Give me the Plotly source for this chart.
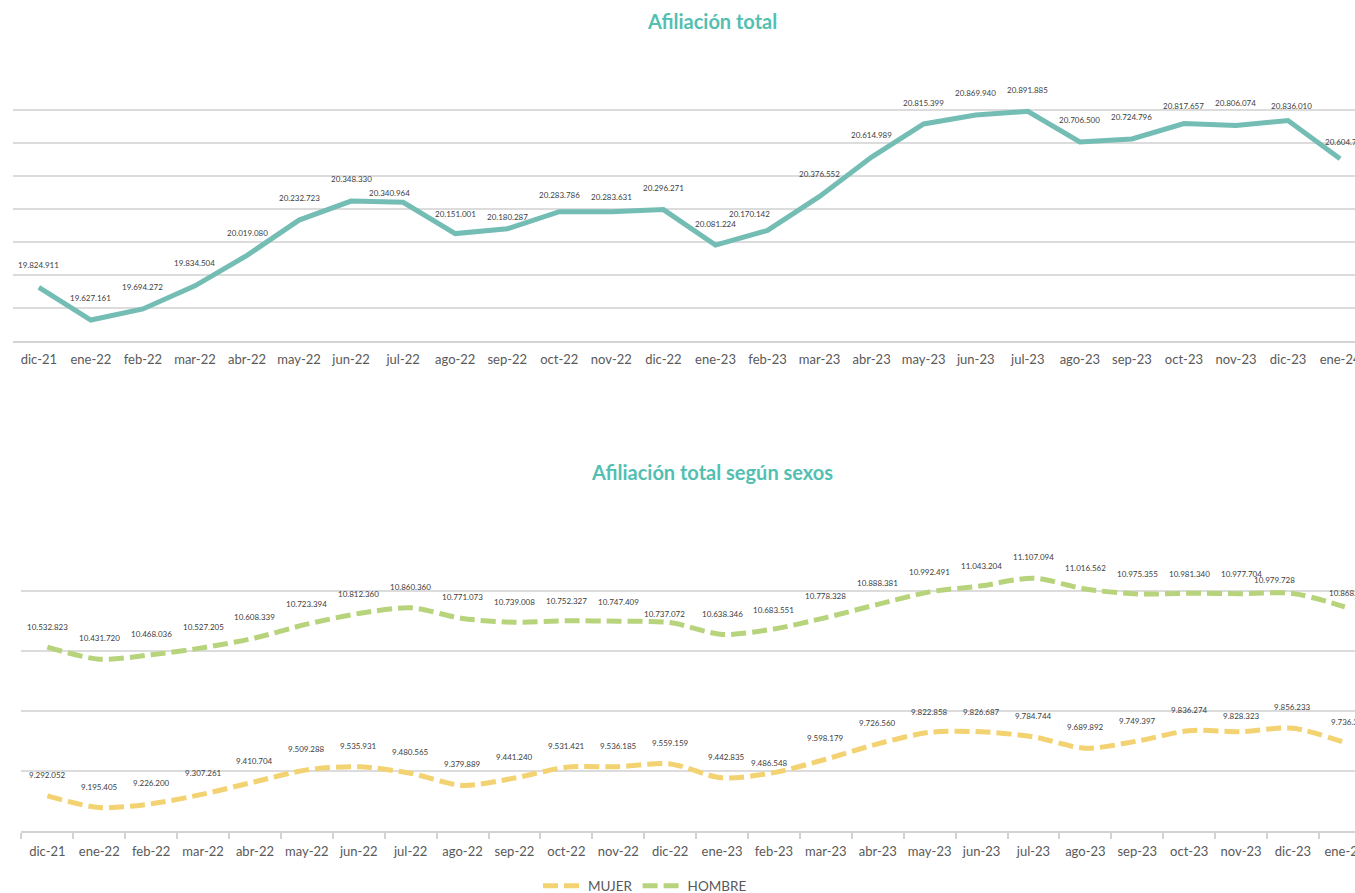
import plotly.graph_objects as go

months = ["dic-21", "ene-22", "feb-22", "mar-22", "abr-22", "may-22", "jun-22", "jul-22",
          "ago-22", "sep-22", "oct-22", "nov-22", "dic-22", "ene-23", "feb-23", "mar-23",
          "abr-23", "may-23", "jun-23", "jul-23", "ago-23", "sep-23", "oct-23", "nov-23",
          "dic-23", "ene-24"]

total = [19824911, 19627161, 19694272, 19834504, 20019080, 20232723, 20348330, 20340964,
         20151001, 20180287, 20283786, 20283631, 20296271, 20081224, 20170142, 20376552,
         20614989, 20815399, 20869940, 20891885, 20706500, 20724796, 20817657, 20806074,
         20836010, 20604735]

hombre = [10532823, 10431720, 10468036, 10527205, 10608339, 10723394, 10812360, 10860360,
          10771073, 10739008, 10752327, 10747409, 10737072, 10638346, 10683551, 10778328,
          10888381, 10992491, 11043204, 11107094, 11016562, 10975355, 10981340, 10977704,
          10979728, 10868377]

mujer = [9292052, 9195405, 9226200, 9307261, 9410704, 9509288, 9535931, 9480565,
         9379889, 9441240, 9531421, 9536185, 9559159, 9442835, 9486548, 9598179,
         9726560, 9822858, 9826687, 9784744, 9689892, 9749397, 9836274, 9828323,
         9856233, 9736358]

# label offsets (pixels above / sideways) as in the source chart
total_lab_up = [22, 22, 22, 23, 22, 22, 22, 9, 20, 12, 17, 15, 22, 21, 16, 22,
                22, 21, 22, 21, 22, 22, 18, 22, 15, 17]
total_lab_dx = [0, 0, 0, 0, 0, 0, 0, -14, 0, 0, 0, 0, 0, 0, -18, 0,
                0, 0, 0, 0, 0, 0, 0, 0, 3, 5]
hombre_lab_up = [20, 21, 21, 21, 21, 20, 20, 21, 21, 20, 20, 19, 9, 20, 19, 22,
                 21, 20, 20, 21, 21, 20, 19, 20, 13, 14]
hombre_lab_dx = [0, 0, 0, 0, 0, 0, 0, 0, 0, 0, 0, 0, -6, 0, 0, 0,
                 0, 0, 0, 0, 0, 0, 0, 0, -18, 5]
mujer_lab_up = [21, 21, 21, 21, 21, 21, 21, 21, 21, 21, 21, 21, 21, 21, 10, 21,
                21, 20, 20, 21, 21, 20, 21, 16, 21, 21]
mujer_lab_dx = [0, 0, 0, 0, 0, 0, 0, 0, 0, 0, 0, 0, 0, 4, -4, 0,
                0, 0, 0, 0, 0, 0, 0, 0, 0, 5]

W, H = 1355, 893
TEAL = "#74bdb5"
GREEN = "#b7d47c"
YELLOW = "#f3d272"
GRID = "#dcdcdc"
TXT = "#595959"
FONT = "Lato"


def fmt(v):
    return f"{v:,}".replace(",", ".")


def px_y(p):
    return (H - p) / H


fig = go.Figure()

fig.add_trace(go.Scatter(x=months, y=total, mode="lines", xaxis="x", yaxis="y",
                         line=dict(color=TEAL, width=5), showlegend=False,
                         hoverinfo="x+y"))
fig.add_trace(go.Scatter(x=months, y=mujer, mode="lines", xaxis="x2", yaxis="y2",
                         name="MUJER",
                         line=dict(color=YELLOW, width=5, dash="15px,6px", shape="spline",
                                   smoothing=0.8)))
fig.add_trace(go.Scatter(x=months, y=hombre, mode="lines", xaxis="x2", yaxis="y2",
                         name="HOMBRE",
                         line=dict(color=GREEN, width=5, dash="15px,6px", shape="spline",
                                   smoothing=0.8)))

ann = []
lab_font = dict(family=FONT, size=8, color="#404040")
for i, m in enumerate(months):
    ann.append(dict(x=m, y=total[i], xref="x", yref="y", text=fmt(total[i]),
                    showarrow=False, yshift=total_lab_up[i], xshift=total_lab_dx[i],
                    yanchor="middle", font=lab_font))
    ann.append(dict(x=m, y=hombre[i], xref="x2", yref="y2", text=fmt(hombre[i]),
                    showarrow=False, yshift=hombre_lab_up[i], xshift=hombre_lab_dx[i],
                    yanchor="middle", font=lab_font))
    ann.append(dict(x=m, y=mujer[i], xref="x2", yref="y2", text=fmt(mujer[i]),
                    showarrow=False, yshift=mujer_lab_up[i], xshift=mujer_lab_dx[i],
                    yanchor="middle", font=lab_font))

ann.append(dict(x=712 / W, y=px_y(21), xref="paper", yref="paper", showarrow=False,
                xanchor="center", yanchor="middle",
                text="<b>Afiliación total</b>",
                font=dict(family=FONT, size=20, color="#52bfb2")))
ann.append(dict(x=712 / W, y=px_y(472), xref="paper", yref="paper", showarrow=False,
                xanchor="center", yanchor="middle",
                text="<b>Afiliación total según sexos</b>",
                font=dict(family=FONT, size=20, color="#52bfb2")))

# plot geometry (pixels)
top_left, top_step = 12.8, 52.05
bot_left, bot_step = 21.4, 51.9

fig.update_layout(
    width=W, height=H,
    margin=dict(l=0, r=0, t=0, b=0, autoexpand=False),
    paper_bgcolor="white", plot_bgcolor="white",
    showlegend=True,
    legend=dict(orientation="h", x=645 / W, xanchor="center", y=px_y(886), yanchor="middle",
                font=dict(family=FONT, size=13.5, color=TXT), itemwidth=40,
                tracegroupgap=20, bgcolor="rgba(0,0,0,0)"),
    annotations=ann,
    xaxis=dict(domain=[top_left / W, 1], range=[-0.5, -0.5 + (W - top_left) / top_step],
               anchor="y", showgrid=False, showline=True, linecolor="#d3d3d3", linewidth=2,
               ticks="outside", ticklen=5, tickcolor="rgba(0,0,0,0)", tickangle=0,
               automargin=False,
               tickfont=dict(family=FONT, size=13, color=TXT)),
    yaxis=dict(domain=[px_y(341), px_y(77)], range=[19.5e6, 21.1e6], anchor="x",
               tick0=19.5e6, dtick=200000, showticklabels=False, showgrid=True,
               automargin=False,
               gridcolor=GRID, gridwidth=1.5, zeroline=False, showline=False),
    xaxis2=dict(domain=[bot_left / W, 1], range=[-0.5, -0.5 + (W - bot_left) / bot_step],
                anchor="y2", showgrid=False, showline=True, linecolor="#d3d3d3", linewidth=2,
                ticks="outside", ticklen=6, tickcolor="#d3d3d3", tickwidth=1.5,
                tickson="boundaries", tickangle=0, automargin=False,
                ticklabelstandoff=7,
                tickfont=dict(family=FONT, size=13, color=TXT)),
    yaxis2=dict(domain=[px_y(831), px_y(567)], range=[9.0e6, 11.2e6], anchor="x2",
                tickvals=[9.0e6, 9.5e6, 10.0e6, 10.5e6, 11.0e6], showticklabels=False,
                automargin=False,
                showgrid=True, gridcolor=GRID, gridwidth=1.5, zeroline=False, showline=False),
)

fig.write_html("out.html", config={"displayModeBar": False},
               post_script="document.body.style.margin='0';")
